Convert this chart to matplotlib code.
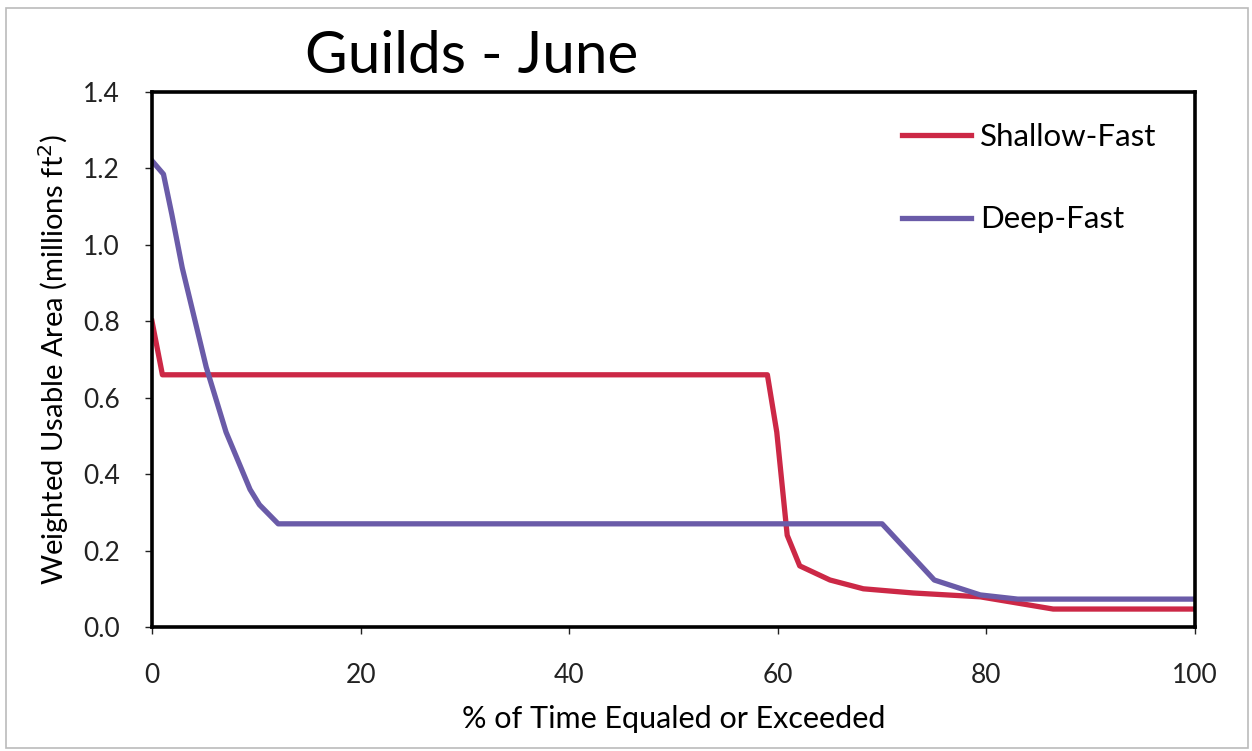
import matplotlib.pyplot as plt
from matplotlib.patches import Rectangle

plt.rcParams['font.family'] = ['Lato', 'DejaVu Sans']

# exceedance curves, % of time vs WUA (millions ft^2)
shallow_x = [0, 1, 59, 59.9, 60.9, 62.1, 65, 68.2, 73, 79.4, 86.4, 100]
shallow_y = [0.80, 0.66, 0.66, 0.51, 0.24, 0.16, 0.123, 0.10, 0.089, 0.079, 0.047, 0.047]

deep_x = [0, 1.1, 1.9, 2.9, 5.2, 7.1, 9.4, 10.3, 12.1, 70, 75, 79.4, 83, 100]
deep_y = [1.22, 1.185, 1.08, 0.94, 0.68, 0.51, 0.36, 0.32, 0.27, 0.27, 0.123, 0.084, 0.073, 0.073]

x_ticks = [0, 20, 40, 60, 80, 100]
y_ticks = [0.0, 0.2, 0.4, 0.6, 0.8, 1.0, 1.2, 1.4]

fig = plt.figure(figsize=(12.52, 7.51), dpi=100)
ax = fig.add_axes([0.1214, 0.1651, 0.8331, 0.7124])

ax.plot(shallow_x, shallow_y, color='#CC2846', lw=3.8, label='Shallow-Fast',
        solid_joinstyle='round')
ax.plot(deep_x, deep_y, color='#6A5BA8', lw=3.8, label='Deep-Fast',
        solid_joinstyle='round')

ax.set_xlim(0, 100)
ax.set_ylim(0, 1.4)
ax.set_xticks(x_ticks)
ax.set_yticks(y_ticks)
ax.set_yticklabels([f'{v:.1f}' for v in y_ticks])
ax.tick_params(direction='out', length=5, width=1, labelsize=19,
               colors='#222222')
ax.tick_params(axis='x', pad=21)
ax.tick_params(axis='y', pad=18)
for s in ax.spines.values():
    s.set_linewidth(2.6)
    s.set_color('black')

ax.set_xlabel('% of Time Equaled or Exceeded', fontsize=22, labelpad=12)
ax.set_ylabel('Weighted Usable Area (millions ft$^2$)', fontsize=21, labelpad=9)

fig.text(0.377, 0.925, 'Guilds - June', fontsize=42, ha='center', va='center')

ax.legend(loc='upper right', bbox_to_anchor=(0.99, 0.995), frameon=False,
          fontsize=22.5, handlelength=2.2, handletextpad=0.3, labelspacing=1.75)

# light outer border around the chart
fig.patches.append(Rectangle((0.005, 0.004), 0.992, 0.985, transform=fig.transFigure,
                             fill=False, edgecolor='#BBBBBB', lw=1.2))

fig.savefig('out.png', dpi=100)
